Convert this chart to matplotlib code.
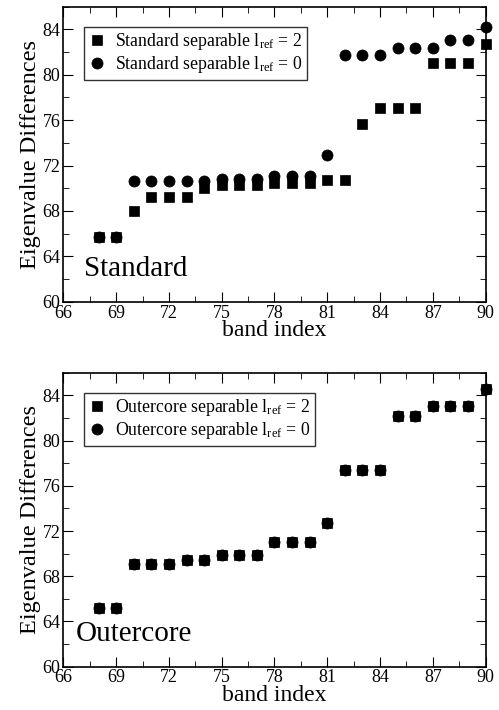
import matplotlib
matplotlib.use('Agg')
import matplotlib.pyplot as plt
from matplotlib.ticker import MultipleLocator

plt.rcParams['font.family'] = ['Liberation Serif', 'DejaVu Serif']
plt.rcParams['mathtext.fontset'] = 'custom'
plt.rcParams['mathtext.rm'] = 'Liberation Serif'
plt.rcParams['mathtext.it'] = 'Liberation Serif:italic'

# band indices
bands = list(range(68, 91))

# top panel: standard separable
std_lref2 = [65.7, 65.7, 68.0, 69.2, 69.2, 69.2, 70.0, 70.25, 70.25, 70.25,
             70.45, 70.45, 70.45, 70.7, 70.7, 75.7, 77.1, 77.1, 77.1, 81.0,
             81.0, 81.0, 82.7]
std_lref0 = [65.7, 65.7, 70.6, 70.6, 70.6, 70.6, 70.6, 70.85, 70.85, 70.85,
             71.1, 71.1, 71.1, 72.9, 81.7, 81.7, 81.7, 82.4, 82.4, 82.4,
             83.05, 83.05, 84.2]

# bottom panel: outercore separable (both l_ref agree)
out_lref2 = [65.2, 65.2, 69.05, 69.05, 69.05, 69.4, 69.4, 69.9, 69.9, 69.9,
             71.0, 71.0, 71.0, 72.7, 77.4, 77.4, 77.4, 82.15, 82.15, 83.1,
             83.1, 83.1, 84.6]
out_lref0 = [65.2, 65.2, 69.05, 69.05, 69.05, 69.4, 69.4, 69.9, 69.9, 69.9,
             71.0, 71.0, 71.0, 72.7, 77.4, 77.4, 77.4, 82.15, 82.15, 83.1,
             83.1, 83.1, 84.6]

fig = plt.figure(figsize=(4.99, 7.10), dpi=100)
ax1 = fig.add_axes([0.127, 0.575, 0.846, 0.4156])
ax2 = fig.add_axes([0.127, 0.061, 0.846, 0.414])


def style_ax(ax, name, name_x, sq, ci, sq_label, ci_label):
    ax.plot(bands, sq, 's', color='black', markersize=7.5, mew=0.5,
            clip_on=False, label=sq_label, zorder=3)
    ax.plot(bands, ci, 'o', color='black', markersize=8, mew=0.5,
            clip_on=False, label=ci_label, zorder=4)
    ax.set_xlim(66, 90)
    ax.set_ylim(60, 86)
    ax.xaxis.set_major_locator(MultipleLocator(3))
    ax.xaxis.set_minor_locator(MultipleLocator(1.5))
    ax.yaxis.set_major_locator(MultipleLocator(4))
    ax.yaxis.set_minor_locator(MultipleLocator(2))
    ax.tick_params(which='both', direction='in', top=True, right=True,
                   labelsize=13, pad=2)
    ax.tick_params(which='major', length=7)
    ax.tick_params(which='minor', length=4)
    for s in ax.spines.values():
        s.set_linewidth(1.2)
    ax.set_xlabel('band index', fontsize=17, labelpad=-1)
    ax.set_ylabel('Eigenvalue Differences', fontsize=17.5, labelpad=1)
    ax.text(name_x, 62.3, name, fontsize=21)
    leg = ax.legend(loc='upper left', bbox_to_anchor=(0.049, 0.931),
                    fontsize=12.8, frameon=True, fancybox=False,
                    edgecolor='black', handlelength=0.9, handletextpad=0.6,
                    borderpad=0.25, labelspacing=0.1, borderaxespad=0)
    leg.get_frame().set_linewidth(1.0)


style_ax(ax1, 'Standard', 67.2, std_lref2, std_lref0,
         r'Standard separable l$_{\mathrm{ref}}$ = 2',
         r'Standard separable l$_{\mathrm{ref}}$ = 0')
style_ax(ax2, 'Outercore', 66.7, out_lref2, out_lref0,
         r'Outercore separable l$_{\mathrm{ref}}$ = 2',
         r'Outercore separable l$_{\mathrm{ref}}$ = 0')

fig.savefig('out.png', dpi=100)
